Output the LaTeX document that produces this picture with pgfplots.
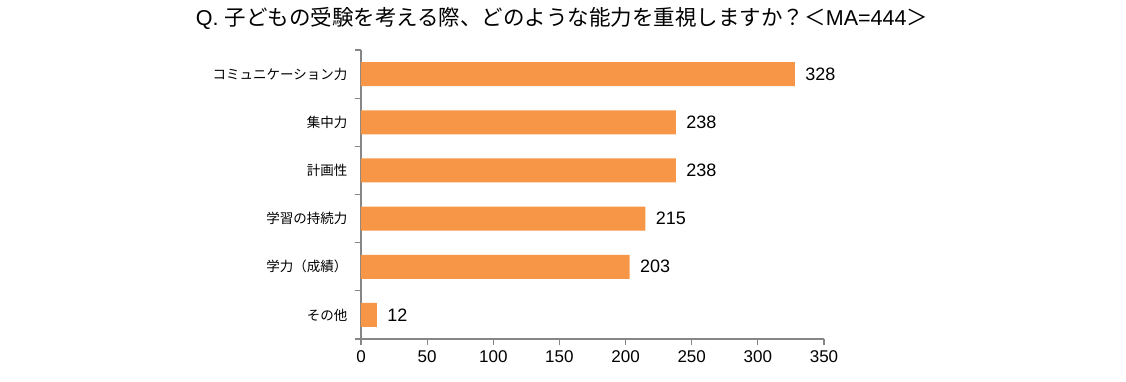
\documentclass[border=0pt]{standalone}
\usepackage{fontspec}
\setmainfont{Liberation Sans}
\newfontfamily\cjk{Noto Sans CJK JP}
\usepackage{pgfplots}
\pgfplotsset{compat=1.18}
\definecolor{barorange}{HTML}{F79646}
\definecolor{axgray}{HTML}{868686}
\begin{document}
\begin{tikzpicture}
\begin{axis}[
  name=ax,
  scale only axis,
  width=463pt, height=289pt,
  at={(0pt,0pt)}, anchor=south west,
  xbar, bar width=24pt,
  xmin=0, xmax=350,
  ymin=-0.5, ymax=5.5,
  y dir=reverse,
  axis lines*=left,
  axis line style={axgray, line width=1.2pt},
  xtick={0,50,...,350},
  ytick={0,1,2,3,4,5},
  yticklabels={コミュニケーション力,集中力,計画性,学習の持続力,学力（成績）,その他},
  yticklabel style={font=\cjk\fontsize{13.5}{13.5}\selectfont, xshift=-4pt},
  minor ytick={-0.5,0.5,1.5,2.5,3.5,4.5,5.5},
  major y tick style={draw=none},
  minor y tick style={axgray, line width=1.2pt},
  minor tick length=6pt,
  tick align=outside,
  major x tick style={axgray, line width=1.2pt},
  major tick length=6pt,
  xticklabel style={font=\fontsize{17}{17}\selectfont, yshift=-2pt},
  /pgf/number format/assume math mode=true,
  nodes near coords,
  nodes near coords style={font=\fontsize{18}{18}\selectfont, black, xshift=7pt},
  clip=false,
]
\addplot[fill=barorange, draw=none] coordinates {
  (328,0) (238,1) (238,2) (215,3) (203,4) (12,5)
};
\end{axis}
\node[font=\fontsize{21.5}{21.5}\selectfont, anchor=center] at ([shift={(201pt,321pt)}]ax.south west)
  {Q. {\cjk 子どもの受験を考える際、どのような能力を重視しますか？＜}MA=444{\cjk ＞}};
\pgfresetboundingbox
\path ([shift={(-361pt,-43pt)}]ax.south west) rectangle ([shift={(765pt,339pt)}]ax.south west);
\end{tikzpicture}
\end{document}
